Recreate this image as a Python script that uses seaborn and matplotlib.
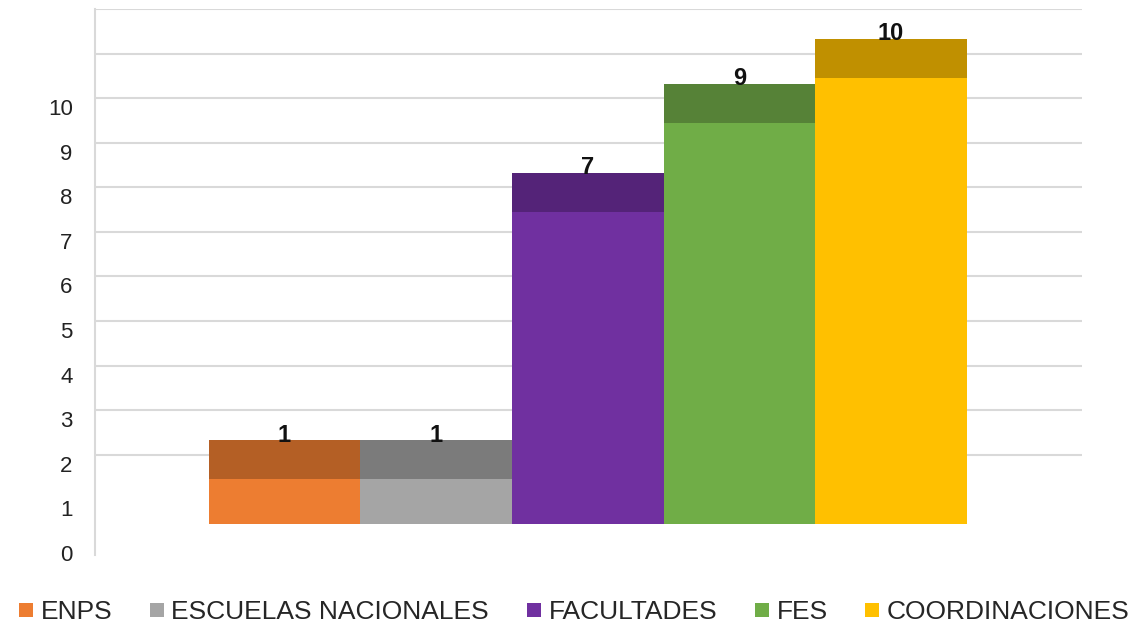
import matplotlib
matplotlib.use("Agg")
import matplotlib.pyplot as plt
from matplotlib.lines import Line2D
from matplotlib.transforms import ScaledTranslation
import seaborn as sns
import pandas as pd

# data
categories = ["ENPS", "ESCUELAS NACIONALES", "FACULTADES", "FES", "COORDINACIONES"]
values = [1, 1, 7, 9, 10]
front_colors = ["#ED7D31", "#A5A5A5", "#7030A0", "#70AD47", "#FFC000"]
top_colors = ["#B45F25", "#7B7B7B", "#542378", "#568237", "#C09000"]

# fake 3D look: bars shifted up, darker top face
SHIFT = 0.45
DEPTH = 0.87

sns.set_theme(style="white")
plt.rcParams["font.family"] = ["Liberation Sans", "DejaVu Sans"]

df = pd.DataFrame({"cat": categories, "val": values})
df["full"] = df["val"] + DEPTH

fig = plt.figure(figsize=(11.4, 6.26), dpi=100)
ax = fig.add_axes([0.0833, 0.1134, 0.8658, 0.8722])

for g in range(2, 13):
    ax.axhline(g, color="#D9D9D9", lw=1.5, zorder=0)

sns.barplot(data=df, x="cat", y="full", hue="cat", palette=top_colors,
            width=1.0, bottom=SHIFT, saturation=1, legend=False, ax=ax,
            zorder=2, linewidth=0)
sns.barplot(data=df, x="cat", y="val", hue="cat", palette=front_colors,
            width=1.0, bottom=SHIFT, saturation=1, legend=False, ax=ax,
            zorder=3, linewidth=0)

for i, v in enumerate(values):
    ax.text(i, v + SHIFT + DEPTH + 0.12, str(v), ha="center", va="center",
            fontsize=17, fontweight="bold", color="#111111", zorder=4)

ax.set_xlim(-1.25, 5.26)
ax.set_ylim(-0.25, 12)
ax.set_xticks([])
ax.set_xlabel("")
ax.set_ylabel("")
ax.tick_params(axis="y", length=0, pad=16)
ax.set_yticks(range(0, 11))
ax.set_yticklabels([str(t) for t in range(0, 11)], fontsize=16, color="#222222")
# labels sit a bit below their gridlines in the original
off = ScaledTranslation(0, -9 / 100, fig.dpi_scale_trans)
for tick in ax.yaxis.get_major_ticks():
    tick.label1.set_transform(tick.label1.get_transform() + off)
for s in ["top", "right", "bottom"]:
    ax.spines[s].set_visible(False)
ax.spines["left"].set_color("#D9D9D9")
ax.spines["left"].set_linewidth(1.5)

handles = [Line2D([0], [0], marker="s", linestyle="none", markersize=9.5,
                  markerfacecolor=c, markeredgewidth=0) for c in front_colors]
fig.legend(handles, categories, loc="center", ncol=5, frameon=False,
           bbox_to_anchor=(0.504, 0.022), fontsize=19, handlelength=0.5,
           handletextpad=0.3, columnspacing=1.45)

fig.savefig("out.png", dpi=100, facecolor="white")
